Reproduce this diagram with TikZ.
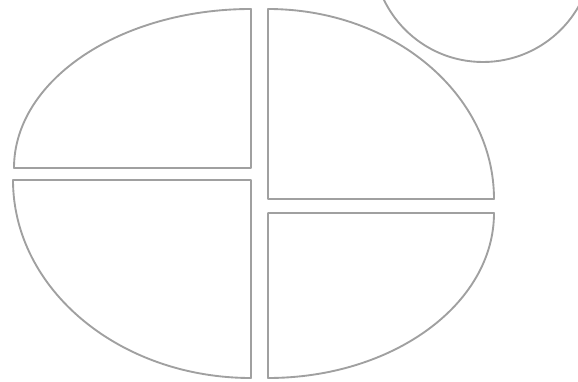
\documentclass[tikz,border=0pt]{standalone}
\usepackage{xcolor}
\usepackage{tikz}
\usetikzlibrary{positioning}
\definecolor{rim}{RGB}{160,160,160}

\begin{document}
\begin{tikzpicture}[x=0.03cm,y=0.03cm,
  piece/.style={draw=rim,line width=1.6pt,line join=round,fill=white},
  lid/.style={draw=rim,line width=1.6pt}]
\clip (0,0) rectangle (578,381);
% upper left piece
\draw[piece] (251,213) -- (14,213) arc[start angle=180,end angle=90,x radius=237,y radius=159] -- cycle;
% lower left piece
\draw[piece] (251,201) -- (13,201) arc[start angle=180,end angle=270,x radius=238,y radius=198] -- cycle;
% upper right piece
\draw[piece] (268,182) -- (268,372) arc[start angle=90,end angle=0,x radius=226,y radius=190] -- cycle;
% lower right piece
\draw[piece] (268,168) -- (494,168) arc[start angle=0,end angle=-90,x radius=226,y radius=165] -- cycle;
% circle at top right
\draw[lid] (483,429) circle[radius=110];
\end{tikzpicture}
\end{document}
